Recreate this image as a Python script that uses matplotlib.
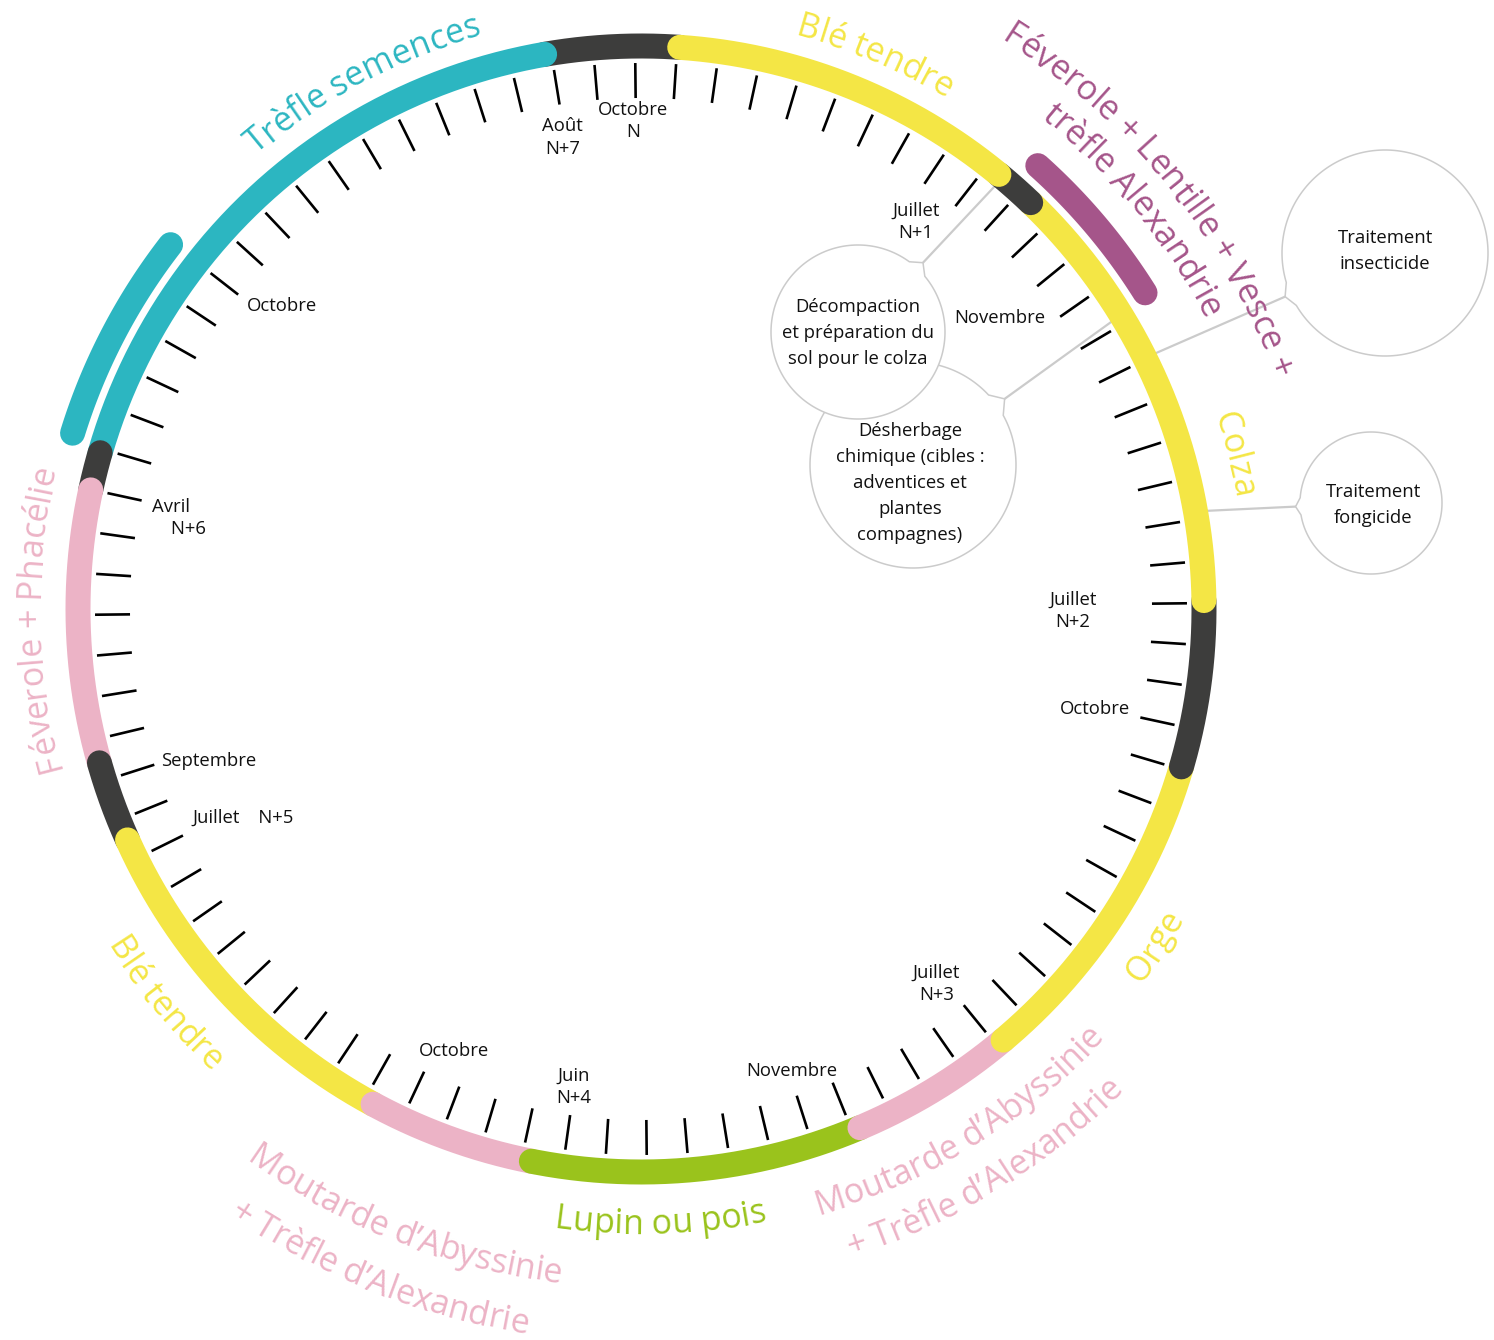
import numpy as np
import matplotlib
matplotlib.use("Agg")
import matplotlib.pyplot as plt
from matplotlib import font_manager
from matplotlib.ft2font import FT2Font

plt.rcParams['font.family'] = ['Open Sans', 'DejaVu Sans']

# --- data -------------------------------------------------------------
# months counted from "Octobre N" (= 0), 84 months = 7 years round the circle
n_months = 84

# main ring: start / end month of each period
seg_start = [1.06, 9.35, 10.36, 20.94, 24.94, 32.8, 36.8, 44.76, 48.77, 57.49, 59.44, 65.99, 66.9, 81.84]
seg_end = [9.35, 10.36, 20.94, 24.94, 32.8, 36.8, 44.76, 48.77, 57.49, 59.44, 65.99, 66.9, 81.84, 85.06]
seg_crop = ['ble', 'sol', 'colza', 'sol', 'orge', 'moutarde', 'lupin', 'moutarde',
            'ble', 'sol', 'feverole', 'sol', 'trefle', 'sol']

# companion crops drawn outside the ring
extra_start = [9.9, 67.15]
extra_end = [13.65, 71.95]
extra_crop = ['associees', 'trefle']

crop_colors = {'ble': '#f4e645', 'colza': '#f4e645', 'orge': '#f4e645',
               'sol': '#3d3d3c', 'moutarde': '#ecb3c6', 'feverole': '#ecb3c6',
               'lupin': '#9ac31c', 'trefle': '#2cb6c1', 'associees': '#a5558a'}

crop_names = ["Trèfle semences", "Blé tendre", "Féverole + Lentille + Vesce +",
              "trèfle Alexandrie", "Colza", "Orge", "Moutarde d’Abyssinie",
              "+ Trèfle d’Alexandrie", "Lupin ou pois", "Moutarde d’Abyssinie",
              "+ Trèfle d’Alexandrie", "Blé tendre", "Féverole + Phacélie"]
crop_name_kind = ['trefle', 'ble', 'associees', 'associees', 'colza', 'orge', 'moutarde',
                  'moutarde', 'lupin', 'moutarde', 'moutarde', 'ble', 'feverole']

month_lab_pos = [0, 9, 13, 21, 24, 33, 37, 44, 48, 57, 59, 66, 72, 82]
month_lab_txt = ["Octobre\nN", "Juillet\nN+1", "Novembre", "Juillet\nN+2", "Octobre",
                 "Juillet\nN+3", "Novembre", "Juin\nN+4", "Octobre", "Juillet    N+5",
                 "Septembre", "Avril\n    N+6", "Octobre", "Août\nN+7"]

ann_txt = ["Décompaction\net préparation du\nsol pour le colza",
           "Désherbage\nchimique (cibles :\nadventices et\nplantes\ncompagnes)",
           "Traitement\ninsecticide",
           "Traitement\nfongicide"]
ann_month = [9.47, 13.79, 14.96, 18.81]

# --- layout -----------------------------------------------------------
W, H = 1494, 1340
CX, CY = 641, 609
R = 563
R_EXTRA = 595
ANG0 = -0.6
RING_LW = 18

# centre angle (deg, clockwise from top), baseline radius, reading clockwise?
name_layout = [(332.1, 596, True), (22.9, 594, True), (51.2, 673, True), (51.0, 633, True),
               (75.4, 604, True), (123.3, 625, False), (148.2, 631, False), (148.5, 681, False),
               (178.2, 625, False), (201.2, 679, False), (201.6, 734, False), (230.3, 632, False),
               (269.1, 602, True)]
lab_r = [488, 475, 462, 432, 465, 477, 486, 483, 480, 450, 458, 471, 470, 478]
lab_dth = [-0.34, -2.6, -4.1, 0.9, 0.1, 0.9, 4.0, 0, -2.2, -1.4, -1.7, -1.1, 2.2, -0.3]

circ_xy = [(858, 332), (913, 465), (1385, 253), (1371, 503)]
circ_r = [87, 103, 103, 71]
circ_tip = [8, 10, 6, 4.5]
circ_txt_off = [(0, 1), (-3, 18), (0, -2), (2, 2)]
GRAY = '#cbcbcb'
INK = '#111111'


def ang(m):
    return np.radians(np.asarray(m) * 360.0 / n_months + ANG0)


def pt(theta, r):
    return CX + r * np.sin(theta), CY - r * np.cos(theta)


fig = plt.figure(figsize=(W / 100, H / 100), dpi=100)
ax = fig.add_axes([0, 0, 1, 1])
ax.set_xlim(0, W)
ax.set_ylim(H, 0)
ax.axis('off')

# ticks
for m in range(n_months):
    x, y = pt(ang([m, m]), np.array([511, 546]))
    ax.plot(x, y, color='black', lw=1.9, zorder=2, solid_capstyle='butt')

# ring, drawn backwards so that every period's end cap sits on the next one
for s, e, c in reversed(list(zip(seg_start, seg_end, seg_crop))):
    t = ang(np.linspace(s, e, 200))
    x, y = pt(t, R)
    ax.plot(x, y, color=crop_colors[c], lw=RING_LW, solid_capstyle='round', zorder=4)

for s, e, c in zip(extra_start, extra_end, extra_crop):
    t = ang(np.linspace(s, e, 100))
    x, y = pt(t, R_EXTRA)
    ax.plot(x, y, color=crop_colors[c], lw=RING_LW, solid_capstyle='round', zorder=4)

# month labels
for m, txt, r, dth in zip(month_lab_pos, month_lab_txt, lab_r, lab_dth):
    x, y = pt(ang(m) + np.radians(dth), r)
    ma = 'left' if txt.startswith('Avril') else 'center'
    ax.text(x, y, txt, fontsize=13.3, ha='center', va='center', multialignment=ma,
            linespacing=1.3, color=INK, zorder=5)

# curved crop names
FS = 24.5
fp = font_manager.FontProperties(family='Open Sans', size=FS)
ft = FT2Font(font_manager.findfont(fp))
ft.set_size(FS, 100)


def curved(s, theta_c, r, color, cw):
    adv = [ft.load_char(ord(ch)).linearHoriAdvance / 65536 for ch in s]
    x0 = -sum(adv) / 2
    for ch, a in zip(s, adv):
        mid = x0 + a / 2
        x0 += a
        if ch == ' ':
            continue
        d = np.degrees(mid / r)
        th = theta_c + d if cw else theta_c - d
        px, py = pt(np.radians(th), r)
        rot = -th if cw else 180 - th
        ax.text(px, py, ch, fontsize=FS, color=color, ha='center', va='baseline',
                rotation=rot, rotation_mode='anchor', zorder=5)


for name, kind, (th, r, cw) in zip(crop_names, crop_name_kind, name_layout):
    curved(name, th, r, crop_colors[kind], cw)

# annotation bubbles
for i in [1, 0, 2, 3]:
    cx, cy = circ_xy[i]
    rr = circ_r[i]
    tx, ty = pt(ang(ann_month[i]), R)
    u = np.array([tx - cx, ty - cy])
    u = u / np.hypot(*u)
    a = np.arctan2(u[1], u[0])
    dl = np.radians(7)
    t = np.linspace(a + dl, a + 2 * np.pi - dl, 300)
    tip = (cx + (rr + circ_tip[i]) * u[0], cy + (rr + circ_tip[i]) * u[1])
    px = np.concatenate([[tip[0]], cx + rr * np.cos(t), [tip[0]]])
    py = np.concatenate([[tip[1]], cy + rr * np.sin(t), [tip[1]]])
    ax.fill(px, py, facecolor='white', edgecolor=GRAY, lw=1.1, zorder=3)
    ax.plot([tip[0], tx], [tip[1], ty], color=GRAY, lw=1.6, zorder=1)
    ox, oy = circ_txt_off[i]
    ax.text(cx + ox, cy + oy, ann_txt[i], fontsize=13.3, ha='center', va='center',
            multialignment='center', linespacing=1.57, color=INK, zorder=5)

fig.savefig('out.png', dpi=100, facecolor='white')
